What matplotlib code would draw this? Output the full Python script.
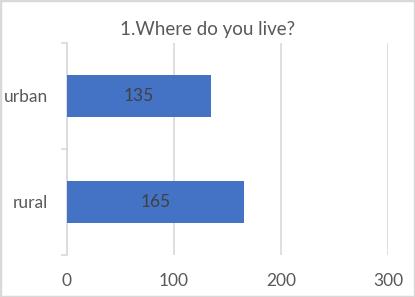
import matplotlib
matplotlib.use("Agg")
import matplotlib.pyplot as plt
from matplotlib.patches import Rectangle

categories = ["rural", "urban"]
values = [165, 135]
x_ticks = [0, 100, 200, 300]
title = "1.Where do you live?"

plt.rcParams['font.family'] = ['Lato', 'DejaVu Sans']

fig = plt.figure(figsize=(4.15, 2.97), dpi=100)
ax = fig.add_axes([67/415, 1-255/297, (388-67)/415, (255-43)/297])

bar_color = "#4472C4"
grid_color = "#D9D9D9"
text_color = "#595959"

ypos = list(range(len(categories)))
bars = ax.barh(ypos, values, height=0.4, color=bar_color, zorder=3)
for y, v in zip(ypos, values):
    ax.text(v/2, y, str(v), ha="center", va="center", fontsize=12.5, color="#404040", zorder=4)

ax.set_xlim(0, 300)
ax.set_ylim(-0.5, len(categories)-0.5)
ax.set_xticks(x_ticks)
ax.set_xticklabels([str(t) for t in x_ticks])
ax.set_yticks(ypos)
ax.set_yticklabels(categories)
ax.set_yticks([-0.5, 0.5, 1.5], minor=True)

ax.tick_params(axis="x", length=0, pad=13, labelsize=12.5, labelcolor=text_color)
ax.tick_params(axis="y", which="major", length=0, pad=13.5, labelsize=12.5, labelcolor=text_color)
ax.tick_params(axis="y", which="minor", length=4.5, width=1.2, color=grid_color, direction="out")

for s in ["top", "right", "bottom"]:
    ax.spines[s].set_visible(False)
ax.spines["left"].set_color(grid_color)
ax.spines["left"].set_linewidth(1.2)

ax.xaxis.grid(True, color=grid_color, linewidth=1.2, zorder=0)
ax.set_axisbelow(True)

fig.text(0.5, 1-30/297, title, ha="center", va="center", fontsize=13.5, color=text_color)

fig.patches.append(Rectangle((0, 0), 1, 1, transform=fig.transFigure, fill=False,
                             edgecolor=grid_color, linewidth=2.5))

fig.savefig("out.png", dpi=100)
